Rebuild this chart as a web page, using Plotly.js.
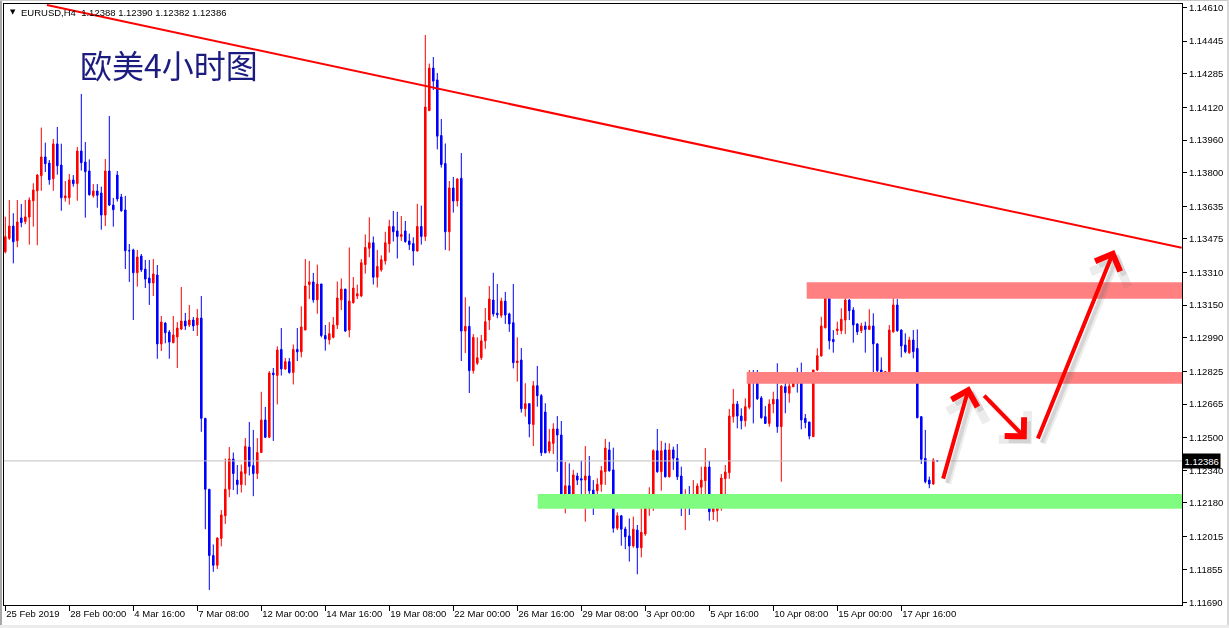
<!DOCTYPE html>
<html>
<head>
<meta charset="utf-8">
<script src="https://cdn.plot.ly/plotly-3.0.1.min.js"></script>
<style>
  html, body { margin: 0; padding: 0; background: #ffffff; }
  #wrap { position: relative; width: 1229px; height: 628px; overflow: hidden; }
  #chart { position: absolute; left: 0; top: 0; width: 1229px; height: 628px; }
  .edge { position: absolute; pointer-events: none; }
  .shapelayer path { mix-blend-mode: multiply; }
</style>
</head>
<body>
<div id="wrap">
  <div id="chart"></div>
  <div class="edge" style="left:0;top:0;width:2px;height:628px;background:#a8a8a8;"></div>
  <div class="edge" style="left:0;top:0;width:1229px;height:1px;background:#c8c8c8;"></div>
  <div class="edge" style="right:0;top:0;width:2px;height:628px;background:#d8d8d8;"></div>
  <div class="edge" style="left:0;bottom:0;width:1229px;height:3px;background:#ececec;"></div>
</div>
<script>
// ---------------- DATA (EURUSD, H4) ----------------
const symbol = "EURUSD,H4";
const chartTitle = "欧美4小时图";

const openP = [
1.13412,1.13478,1.13538,1.13466,1.13578,1.13560,1.13582,1.13662,1.13711,1.13785,
1.13877,1.13847,1.13770,1.13941,1.13837,1.13677,1.13677,1.13764,1.13746,1.13906,
1.13852,1.13808,1.13687,1.13710,1.13700,1.13592,1.13808,1.13641,1.13788,1.13681,
1.13617,1.13417,1.13421,1.13309,1.13391,1.13327,1.13283,1.13259,1.13298,1.12960,
1.13062,1.13018,1.12966,1.12994,1.13033,1.13072,1.13053,1.13077,1.13053,1.13087,
1.12595,1.12247,1.11922,1.11874,1.12006,1.12117,1.12247,1.12395,1.12292,1.12270,
1.12324,1.12454,1.12363,1.12324,1.12427,1.12587,1.12502,1.12817,1.12805,1.12933,
1.12837,1.12873,1.12820,1.12933,1.12921,1.13028,1.13251,1.13264,1.13176,1.13254,
1.13001,1.12980,1.12992,1.13053,1.13176,1.13229,1.13028,1.13162,1.13195,1.13195,
1.13349,1.13429,1.13456,1.13287,1.13323,1.13367,1.13451,1.13536,1.13514,1.13487,
1.13514,1.13465,1.13452,1.13416,1.13536,1.13487,1.14104,1.14313,1.14255,1.13982,
1.13845,1.13510,1.13725,1.13661,1.13772,1.13023,1.13046,1.12829,1.12865,1.12892,
1.12975,1.13077,1.13175,1.13110,1.13100,1.13170,1.13107,1.13064,1.12868,1.12881,
1.12642,1.12667,1.12564,1.12755,1.12706,1.12626,1.12435,1.12472,1.12543,1.12513,
1.12203,1.12264,1.12175,1.12312,1.12299,1.12292,1.12312,1.12243,1.12240,1.12271,
1.12333,1.12440,1.12342,1.12056,1.12117,1.12052,1.12018,1.11969,1.12047,1.11960,
1.12028,1.12154,1.12214,1.12436,1.12333,1.12440,1.12308,1.12440,1.12399,1.12312,
1.12165,1.12191,1.12175,1.12214,1.12257,1.12289,1.12356,1.12137,1.12142,1.12165,
1.12299,1.12328,1.12603,1.12665,1.12606,1.12583,1.12649,1.12791,1.12788,1.12695,
1.12603,1.12570,1.12665,1.12688,1.12554,1.12750,1.12718,1.12750,1.12788,1.12788,
1.12595,1.12577,1.12505,1.12832,1.12901,1.13039,1.13200,1.12982,1.13025,1.13025,
1.13077,1.13175,1.13126,1.13058,1.13025,1.13048,1.13031,1.13048,1.12960,1.12832,
1.12786,1.12824,1.13019,1.13151,1.13028,1.12955,1.12917,1.12979,1.12938,1.12603,
1.12399,1.12292,1.12273,1.12388];

const highP = [
1.13584,1.13666,1.13601,1.13666,1.13646,1.13666,1.13679,1.13748,1.13793,1.14021,
1.13947,1.13862,1.13965,1.14024,1.13942,1.13759,1.13793,1.13788,1.13926,1.14186,
1.13950,1.13865,1.13744,1.13744,1.13731,1.13867,1.14078,1.13676,1.13808,1.13696,
1.13686,1.13450,1.13427,1.13421,1.13401,1.13372,1.13372,1.13376,1.13347,1.13097,
1.13067,1.13028,1.13097,1.13067,1.13239,1.13112,1.13151,1.13092,1.13131,1.13195,
1.12595,1.12247,1.11976,1.12011,1.12145,1.12398,1.12454,1.12427,1.12366,1.12368,
1.12498,1.12577,1.12538,1.12498,1.12725,1.12651,1.12827,1.12842,1.12948,1.13038,
1.12891,1.12891,1.12957,1.13038,1.13144,1.13376,1.13367,1.13308,1.13349,1.13254,
1.13053,1.13067,1.13092,1.13266,1.13281,1.13229,1.13433,1.13288,1.13251,1.13376,
1.13497,1.13581,1.13487,1.13421,1.13394,1.13510,1.13569,1.13612,1.13608,1.13587,
1.13563,1.13501,1.13483,1.13647,1.13638,1.14475,1.14335,1.14367,1.14289,1.14063,
1.13943,1.13759,1.13779,1.13772,1.13896,1.13189,1.13144,1.13008,1.12992,1.13004,
1.13136,1.13244,1.13309,1.13254,1.13187,1.13215,1.13113,1.13254,1.12992,1.12940,
1.12767,1.12667,1.12778,1.12852,1.12714,1.12669,1.12543,1.12571,1.12606,1.12582,
1.12381,1.12374,1.12342,1.12328,1.12387,1.12459,1.12410,1.12292,1.12301,1.12361,
1.12494,1.12479,1.12451,1.12134,1.12121,1.12063,1.12104,1.12113,1.12072,1.12154,
1.12165,1.12257,1.12443,1.12543,1.12484,1.12475,1.12472,1.12456,1.12469,1.12358,
1.12247,1.12263,1.12292,1.12276,1.12358,1.12449,1.12386,1.12181,1.12208,1.12322,
1.12366,1.12641,1.12739,1.12680,1.12644,1.12693,1.12832,1.12832,1.12832,1.12704,
1.12655,1.12688,1.12726,1.12865,1.12758,1.12786,1.12783,1.12793,1.12843,1.12868,
1.12616,1.12577,1.12832,1.12938,1.13093,1.13205,1.13233,1.13028,1.13069,1.13134,
1.13205,1.13180,1.13140,1.13061,1.13064,1.13069,1.13130,1.13110,1.12963,1.12894,
1.12827,1.13053,1.13233,1.13180,1.13031,1.13012,1.12995,1.13028,1.13031,1.12606,
1.12538,1.12309,1.12399,1.12390];

const lowP = [
1.13404,1.13470,1.13355,1.13434,1.13532,1.13547,1.13447,1.13535,1.13444,1.13711,
1.13803,1.13741,1.13711,1.13790,1.13613,1.13658,1.13643,1.13731,1.13662,1.13810,
1.13579,1.13687,1.13677,1.13628,1.13520,1.13538,1.13636,1.13535,1.13658,1.13608,
1.13327,1.13264,1.13077,1.13241,1.13313,1.13234,1.13151,1.13195,1.12887,1.12925,
1.12963,1.12887,1.12963,1.12842,1.13028,1.13028,1.13043,1.13023,1.12999,1.12529,
1.12051,1.11753,1.11842,1.11856,1.11967,1.12077,1.12208,1.12243,1.12222,1.12231,
1.12266,1.12315,1.12213,1.12297,1.12427,1.12498,1.12498,1.12484,1.12663,1.12805,
1.12832,1.12814,1.12761,1.12876,1.12894,1.13028,1.13180,1.13162,1.13108,1.12992,
1.12927,1.12957,1.12987,1.13033,1.13126,1.13019,1.12992,1.13158,1.13180,1.13189,
1.13305,1.13385,1.13251,1.13237,1.13314,1.13349,1.13408,1.13462,1.13379,1.13465,
1.13456,1.13421,1.13344,1.13412,1.13447,1.13465,1.14104,1.14205,1.13914,1.13825,
1.13421,1.13416,1.13604,1.13634,1.12876,1.12915,1.12719,1.12814,1.12857,1.12881,
1.12936,1.13028,1.13094,1.13086,1.13088,1.13058,1.13019,1.12840,1.12775,1.12623,
1.12603,1.12502,1.12459,1.12652,1.12410,1.12423,1.12423,1.12420,1.12333,1.12198,
1.12129,1.12175,1.12170,1.12268,1.12214,1.12088,1.12198,1.12121,1.12178,1.12235,
1.12268,1.12333,1.12034,1.12047,1.11970,1.11953,1.11892,1.11960,1.11830,1.11913,
1.12019,1.12117,1.12141,1.12328,1.12240,1.12305,1.12305,1.12342,1.12292,1.12116,
1.12047,1.12121,1.12154,1.12208,1.12165,1.12161,1.12093,1.12096,1.12088,1.12142,
1.12208,1.12299,1.12574,1.12546,1.12541,1.12554,1.12639,1.12570,1.12685,1.12593,
1.12567,1.12554,1.12620,1.12524,1.12284,1.12620,1.12672,1.12748,1.12721,1.12541,
1.12546,1.12492,1.12505,1.12827,1.12897,1.13036,1.12933,1.12917,1.13004,1.13008,
1.13008,1.13077,1.12966,1.13004,1.13013,1.12917,1.13028,1.12791,1.12791,1.12783,
1.12783,1.12812,1.13015,1.13019,1.12894,1.12914,1.12911,1.12889,1.12595,1.12371,
1.12276,1.12252,1.12268,1.12382];

const closeP = [
1.13486,1.13538,1.13461,1.13558,1.13555,1.13583,1.13666,1.13715,1.13788,1.13877,
1.13844,1.13765,1.13941,1.13834,1.13677,1.13686,1.13764,1.13746,1.13906,1.13849,
1.13805,1.13692,1.13710,1.13689,1.13592,1.13808,1.13641,1.13618,1.13671,1.13613,
1.13417,1.13417,1.13309,1.13386,1.13323,1.13278,1.13259,1.13303,1.12960,1.13067,
1.13015,1.12969,1.13004,1.13038,1.13072,1.13048,1.13077,1.13048,1.13087,1.12595,
1.12247,1.11922,1.11874,1.12008,1.12121,1.12247,1.12395,1.12324,1.12270,1.12333,
1.12457,1.12359,1.12324,1.12427,1.12587,1.12502,1.12817,1.12809,1.12930,1.12837,
1.12873,1.12820,1.12933,1.12921,1.13043,1.13244,1.13264,1.13176,1.13254,1.13001,
1.12984,1.13010,1.13053,1.13185,1.13229,1.13023,1.13170,1.13234,1.13206,1.13358,
1.13433,1.13456,1.13287,1.13340,1.13373,1.13456,1.13536,1.13510,1.13487,1.13496,
1.13462,1.13447,1.13416,1.13536,1.13487,1.14122,1.14313,1.14249,1.13979,1.13840,
1.13510,1.13725,1.13661,1.13769,1.13023,1.13046,1.12829,1.12992,1.12892,1.12975,
1.13069,1.13180,1.13107,1.13103,1.13170,1.13102,1.13058,1.12868,1.12876,1.12642,
1.12667,1.12567,1.12755,1.12706,1.12426,1.12426,1.12480,1.12543,1.12513,1.12203,
1.12264,1.12178,1.12317,1.12292,1.12292,1.12312,1.12240,1.12165,1.12271,1.12338,
1.12449,1.12338,1.12056,1.12117,1.12051,1.12014,1.11969,1.12051,1.11960,1.12036,
1.12158,1.12222,1.12436,1.12333,1.12436,1.12308,1.12440,1.12399,1.12308,1.12165,
1.12185,1.12185,1.12219,1.12263,1.12292,1.12356,1.12137,1.12156,1.12168,1.12302,
1.12332,1.12606,1.12665,1.12606,1.12583,1.12652,1.12796,1.12783,1.12691,1.12598,
1.12570,1.12665,1.12688,1.12554,1.12753,1.12721,1.12753,1.12791,1.12783,1.12587,
1.12574,1.12508,1.12832,1.12902,1.13048,1.13195,1.12975,1.12971,1.13033,1.13081,
1.13175,1.13123,1.13053,1.13019,1.13048,1.13031,1.13048,1.12960,1.12829,1.12786,
1.12824,1.13028,1.13151,1.13025,1.12950,1.12922,1.12979,1.12922,1.12598,1.12394,
1.12284,1.12273,1.12391,1.12386];

// time-axis labels, one every 16 bars (H4)
const xTickLabels = ["25 Feb 2019","28 Feb 00:00","4 Mar 16:00","7 Mar 08:00","12 Mar 00:00",
  "14 Mar 16:00","19 Mar 08:00","22 Mar 00:00","26 Mar 16:00","29 Mar 08:00",
  "3 Apr 00:00","5 Apr 16:00","10 Apr 08:00","15 Apr 00:00","17 Apr 16:00"];
const barsPerLabel = 16;

// price-axis labels
const yTickVals = [1.14610,1.14445,1.14285,1.14120,1.13960,1.13800,1.13635,1.13475,1.13310,
  1.13150,1.12990,1.12825,1.12665,1.12500,1.12340,1.12180,1.12015,1.11855,1.11690];

// drawn zones (price bands) and trend line (bar index, price)
const resistanceTop = [1.13262, 1.13182];
const resistanceMid = [1.12822, 1.12765];
const supportZone   = [1.12224, 1.12152];
const zoneStartBar  = [200.35, 185.35, 133.1];
const trendLine     = {bar0: 10.4, price0: 1.14622, bar1: 294.1, price1: 1.13432};
// hand-drawn arrows: [tailBar, tailPrice, headBar, headPrice]
const arrows = [
  [234.35, 1.12292, 241.0, 1.12752],
  [244.35, 1.12714, 255.35, 1.12492],
  [258.0, 1.12489, 277.25, 1.13421]
];

// ---------------- CHART ----------------
const N = closeP.length;
const idx = closeP.map((_, i) => i);
const last = N - 1;
const lastClose = closeP[last];

const W = 1229, H = 628;
const mL = 4, mR = 47, mT = 4, mB = 23;
const plotW = W - mL - mR;
const barPx = 4.0;
const x0 = -1.3 / barPx;
const xRange = [x0, x0 + plotW / barPx];
const yRange = [1.116793, 1.146272];
const pxX = (px) => (px - mL) / plotW;   // pixel -> paper x

const trace = {
  type: 'candlestick',
  x: idx,
  open: openP, high: highP, low: lowP, close: closeP,
  increasing: { line: { color: '#ff0000', width: 1 }, fillcolor: '#ff0000' },
  decreasing: { line: { color: '#0000ff', width: 1 }, fillcolor: '#0000ff' },
  whiskerwidth: 0,
  hoverinfo: 'none',
  showlegend: false
};

const shapes = [
  { type: 'line', xref: 'paper', yref: 'y', x0: 0, x1: 1, y0: lastClose, y1: lastClose,
    line: { color: '#c0c0c0', width: 1 } },
  { type: 'rect', xref: 'x', yref: 'y', x0: zoneStartBar[0], x1: xRange[1],
    y0: resistanceTop[0], y1: resistanceTop[1], fillcolor: '#ff8080', line: { width: 0 } },
  { type: 'rect', xref: 'x', yref: 'y', x0: zoneStartBar[1], x1: xRange[1] + 1.3,
    y0: resistanceMid[0], y1: resistanceMid[1], fillcolor: '#ff8080', line: { width: 0 } },
  { type: 'rect', xref: 'x', yref: 'y', x0: zoneStartBar[2], x1: xRange[1] + 2.8,
    y0: supportZone[0], y1: supportZone[1], fillcolor: '#80fc80', line: { width: 0 } },
  { type: 'line', xref: 'x', yref: 'y', x0: trendLine.bar0, y0: trendLine.price0,
    x1: trendLine.bar1, y1: trendLine.price1, line: { color: '#ff0000', width: 2 } }
];

const annotations = [];
// soft arrow shadows
[[6, 'rgba(110,110,110,0.12)', 5, -5], [4, 'rgba(110,110,110,0.18)', 4, -4]].forEach(s => {
  arrows.forEach(a => {
    annotations.push({ x: a[2], y: a[3], ax: a[0], ay: a[1], xref: 'x', yref: 'y', axref: 'x', ayref: 'y',
      text: '', showarrow: true, arrowhead: 4, arrowsize: 1.3, arrowwidth: s[0],
      arrowcolor: s[1], xshift: s[2], yshift: s[3], standoff: 0 });
  });
});
arrows.forEach(a => {
  annotations.push({ x: a[2], y: a[3], ax: a[0], ay: a[1], xref: 'x', yref: 'y', axref: 'x', ayref: 'y',
    text: '', showarrow: true, arrowhead: 4, arrowsize: 1.3, arrowwidth: 4,
    arrowcolor: '#ff0000', standoff: 0 });
});
// header
annotations.push({ xref: 'paper', yref: 'paper', x: pxX(8), y: 1 - (12.5 - mT) / (H - mT - mB),
  xanchor: 'left', yanchor: 'middle', showarrow: false, text: '▼',
  font: { family: 'DejaVu Sans, sans-serif', size: 7, color: '#000' } });
annotations.push({ xref: 'paper', yref: 'paper', x: pxX(19), y: 1 - (12.5 - mT) / (H - mT - mB),
  xanchor: 'left', yanchor: 'middle', showarrow: false,
  text: symbol + '&nbsp;&nbsp;' + [openP[last], highP[last], lowP[last], closeP[last]].map(v => v.toFixed(5)).join(' '),
  font: { family: 'Liberation Sans, Arial, sans-serif', size: 9.5, color: '#000' } });
// title
annotations.push({ xref: 'paper', yref: 'paper', x: pxX(78), y: 1 - (63.5 - mT) / (H - mT - mB),
  xanchor: 'left', yanchor: 'middle', showarrow: false, text: chartTitle,
  font: { family: 'Noto Sans CJK SC, sans-serif', size: 32, color: '#1c1c80' } });
// current price box
annotations.push({ xref: 'paper', yref: 'y', x: 1, y: lastClose, xanchor: 'left', yanchor: 'middle',
  showarrow: false, text: lastClose.toFixed(5), bgcolor: '#000000', borderpad: 1.5,
  font: { family: 'Liberation Sans, Arial, sans-serif', size: 9.5, color: '#ffffff' } });

const layout = {
  width: W, height: H,
  margin: { l: mL, r: mR, t: mT, b: mB, pad: 0 },
  paper_bgcolor: '#ffffff', plot_bgcolor: '#ffffff',
  font: { family: 'Liberation Sans, Arial, sans-serif', size: 9.5, color: '#000' },
  showlegend: false,
  boxgap: 0.45,
  xaxis: {
    type: 'linear', range: xRange, fixedrange: true,
    tickmode: 'array',
    tickvals: xTickLabels.map((_, k) => k * barsPerLabel),
    ticktext: xTickLabels,
    tickangle: 0,
    ticks: 'outside', ticklen: 5, tickwidth: 1, tickcolor: '#000',
    ticklabelposition: 'outside right',
    showline: true, linecolor: '#000', linewidth: 1, mirror: true,
    showgrid: false, zeroline: false,
    rangeslider: { visible: false },
    tickfont: { size: 9.5 }
  },
  yaxis: {
    range: yRange, side: 'right', fixedrange: true,
    tickmode: 'array', tickvals: yTickVals, ticktext: yTickVals.map(v => v.toFixed(5)),
    ticks: 'outside', ticklen: 4, tickwidth: 1, tickcolor: '#000',
    showline: true, linecolor: '#000', linewidth: 1, mirror: true,
    showgrid: false, zeroline: false,
    tickfont: { size: 9.5 }
  },
  shapes: shapes,
  annotations: annotations
};

Plotly.newPlot('chart', [trace], layout, { displayModeBar: false, staticPlot: true });
</script>
</body>
</html>
